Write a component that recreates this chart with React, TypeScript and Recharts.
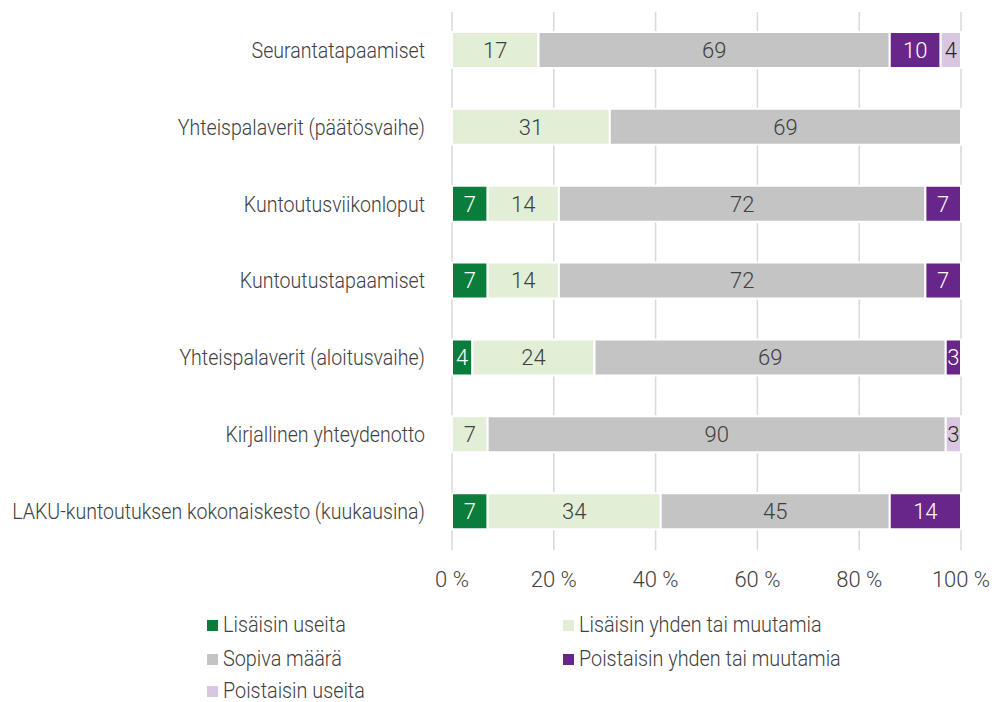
import { Bar, BarChart, CartesianGrid, LabelList, XAxis, YAxis } from 'recharts'

const categories = [
  'Seurantatapaamiset',
  'Yhteispalaverit (päätösvaihe)',
  'Kuntoutusviikonloput',
  'Kuntoutustapaamiset',
  'Yhteispalaverit (aloitusvaihe)',
  'Kirjallinen yhteydenotto',
  'LAKU-kuntoutuksen kokonaiskesto (kuukausina)',
]

const lisaisinUseita = [0, 0, 7, 7, 4, 0, 7]
const lisaisinMuutamia = [17, 31, 14, 14, 24, 7, 34]
const sopivaMaara = [69, 69, 72, 72, 69, 90, 45]
const poistaisinMuutamia = [10, 0, 7, 7, 3, 0, 14]
const poistaisinUseita = [4, 0, 0, 0, 0, 3, 0]

const xTicks = [0, 20, 40, 60, 80, 100]

const series = [
  { key: 'a', name: 'Lisäisin useita', values: lisaisinUseita, color: '#0b7d3a', text: '#ffffff' },
  { key: 'b', name: 'Lisäisin yhden tai muutamia', values: lisaisinMuutamia, color: '#e2efd6', text: '#404040' },
  { key: 'c', name: 'Sopiva määrä', values: sopivaMaara, color: '#c4c4c4', text: '#404040' },
  { key: 'd', name: 'Poistaisin yhden tai muutamia', values: poistaisinMuutamia, color: '#68258a', text: '#ffffff' },
  { key: 'e', name: 'Poistaisin useita', values: poistaisinUseita, color: '#d9c7e1', text: '#262626' },
]

const data = categories.map((name, i) => {
  const row: Record<string, string | number> = { name }
  series.forEach((s) => {
    row[s.key] = s.values[i]
  })
  return row
})

const font = 'Roboto, "Noto Sans", sans-serif'
// the original face is a condensed one, so squeeze Roboto a bit
const squeeze = 0.89

function CategoryTick(props: any) {
  const { x, y, payload } = props
  return (
    <text
      transform={`translate(${x},${y}) scale(${squeeze},1)`}
      textAnchor="end"
      dominantBaseline="central"
      fill="#404040"
      fontSize={22}
      fontWeight={300}
      fontFamily={font}
    >
      {payload.value}
    </text>
  )
}

// legend: two columns, filled row by row
const legendPos = [
  { left: 207, top: 614 },
  { left: 563, top: 614 },
  { left: 207, top: 648 },
  { left: 563, top: 648 },
  { left: 207, top: 680 },
]

export default function App() {
  return (
    <div style={{ position: 'absolute', left: 0, top: 0, width: 992, height: 702, background: '#fff', fontFamily: font }}>
      <BarChart
        width={992}
        height={600}
        data={data}
        layout="vertical"
        margin={{ top: 12, right: 31, bottom: 0, left: 0 }}
        barSize={36}
      >
        <CartesianGrid horizontal={false} stroke="#d9d9d9" strokeWidth={1.5} />
        <XAxis
          type="number"
          domain={[0, 100]}
          ticks={xTicks}
          tickFormatter={(v) => `${v} %`}
          axisLine={false}
          tickLine={false}
          tickSize={0}
          tickMargin={21}
          height={50}
          tick={{ fill: '#404040', fontSize: 22, fontWeight: 300, fontFamily: font }}
        />
        <YAxis
          type="category"
          dataKey="name"
          width={452}
          axisLine={false}
          tickLine={false}
          tickSize={0}
          tickMargin={27}
          interval={0}
          tick={<CategoryTick />}
        />
        {series.map((s) => (
          <Bar
            key={s.key}
            dataKey={s.key}
            name={s.name}
            stackId="s"
            fill={s.color}
            stroke="#ffffff"
            strokeWidth={2}
            isAnimationActive={false}
          >
            <LabelList
              dataKey={s.key}
              position="center"
              formatter={(v: any) => (Number(v) > 0 ? v : '')}
              style={{ fill: s.text, fontSize: 22, fontWeight: 300, fontFamily: font }}
            />
          </Bar>
        ))}
      </BarChart>
      {series.map((s, i) => {
        const p = legendPos[i]
        return (
          <div
            key={s.key}
            style={{ position: 'absolute', left: p.left, top: p.top, display: 'flex', alignItems: 'center', height: 22, lineHeight: '22px', color: '#404040', fontSize: 22, fontWeight: 300, whiteSpace: 'nowrap' }}
          >
            <span style={{ display: 'inline-block', width: 11, height: 11, background: s.color, marginRight: 5, flex: 'none' }} />
            <span style={{ display: 'inline-block', transform: 'scaleX(0.9)', transformOrigin: 'left center' }}>{s.name}</span>
          </div>
        )
      })}
    </div>
  )
}
